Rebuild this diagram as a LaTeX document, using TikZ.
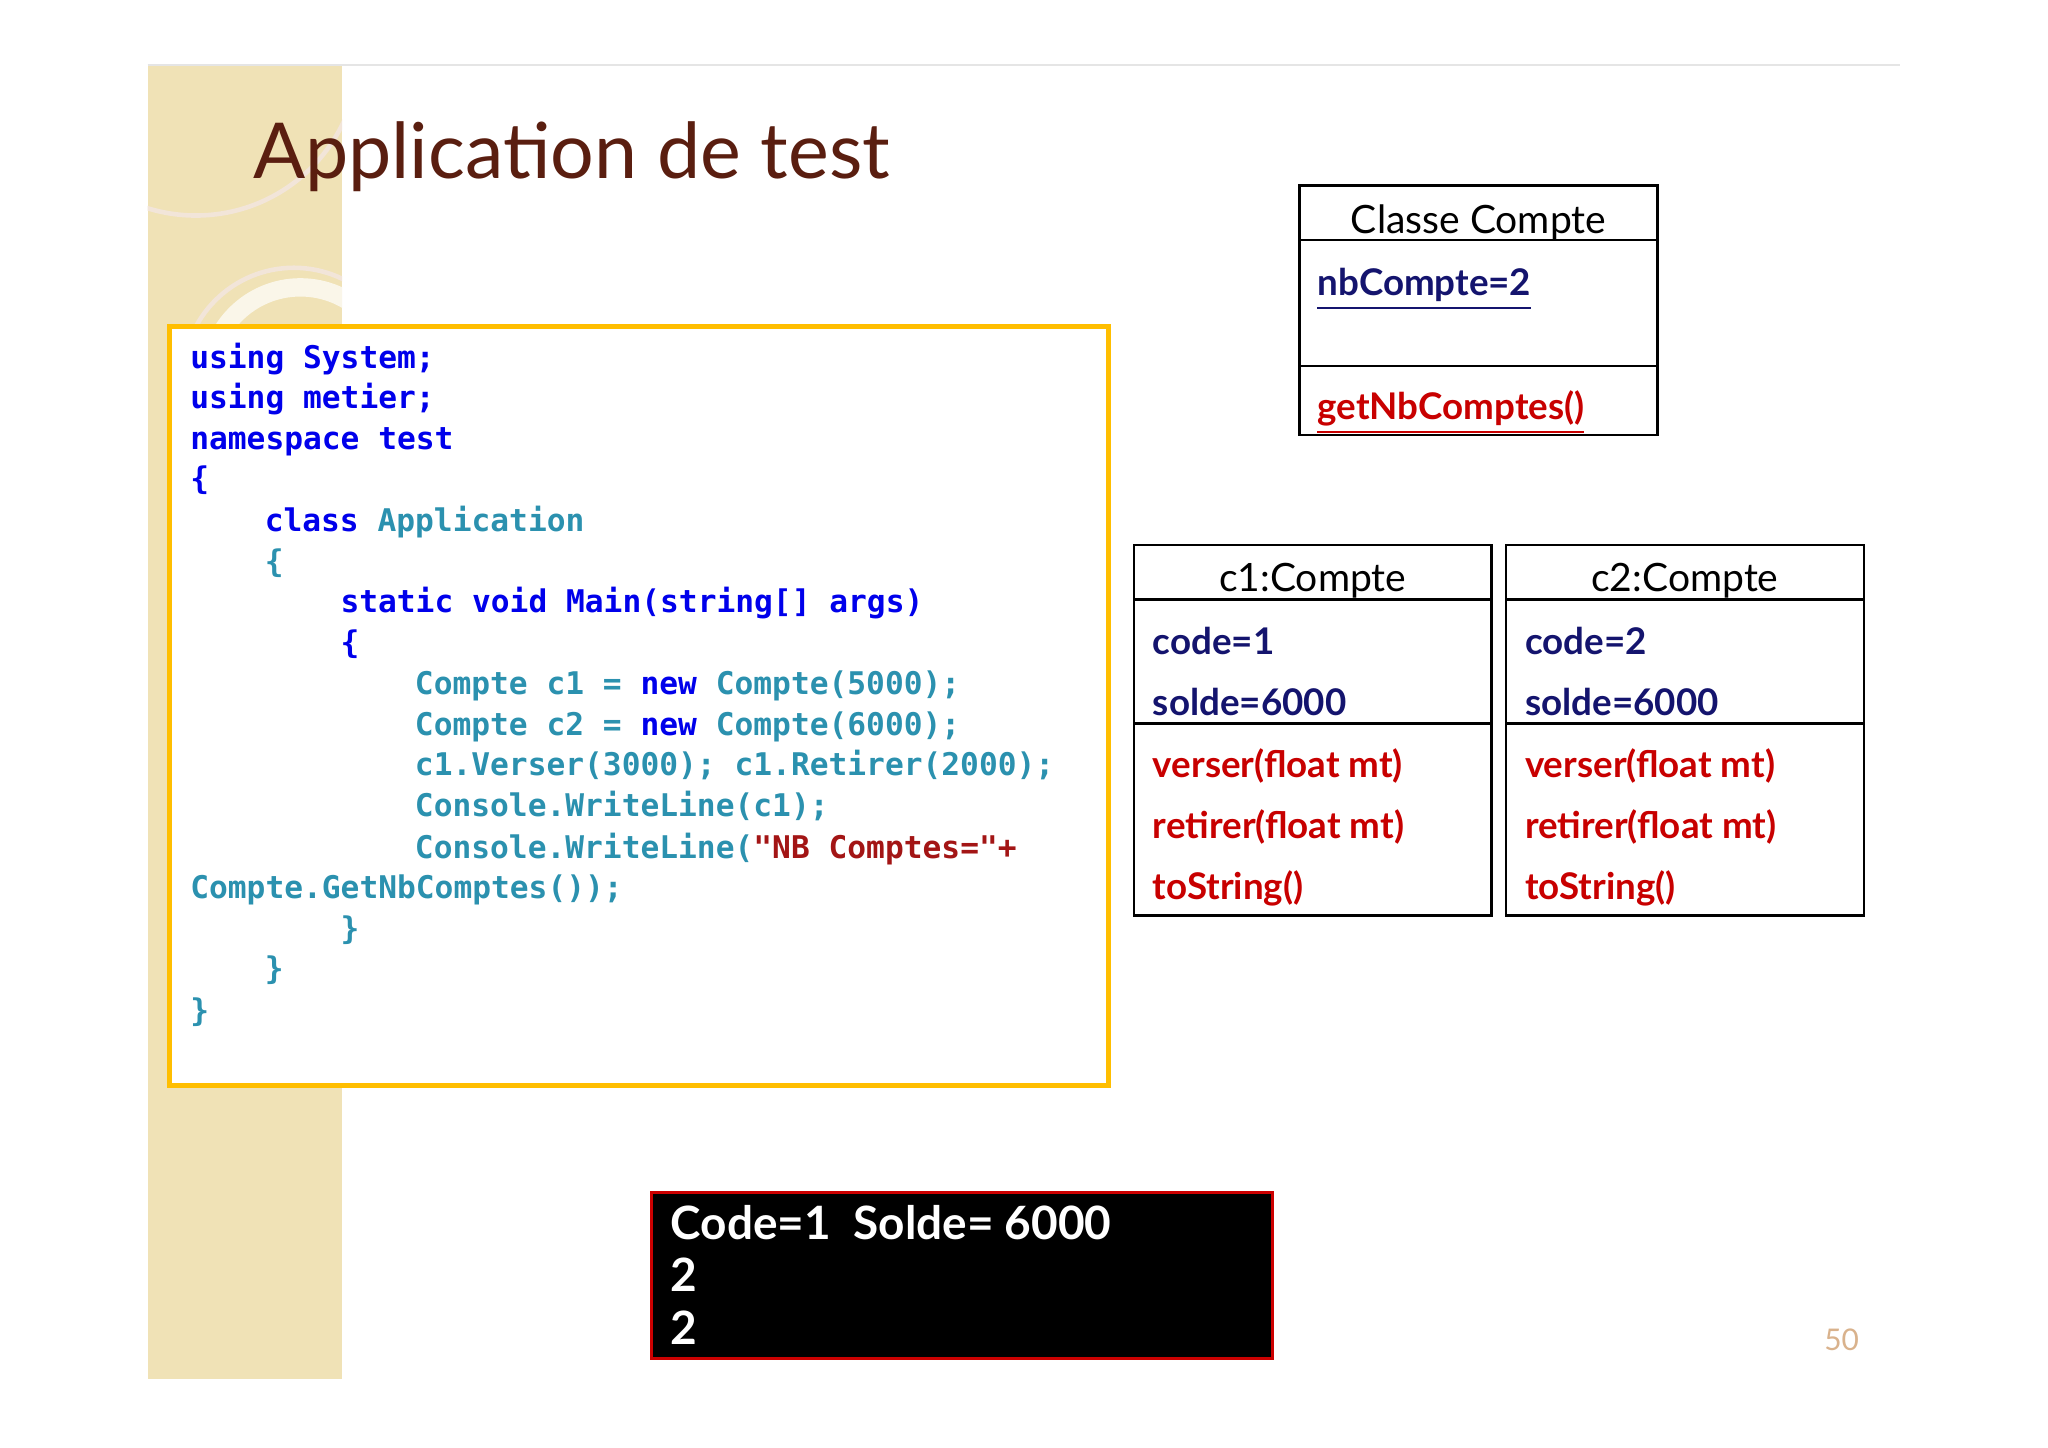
\documentclass[tikz,border=0pt]{standalone}
\usepackage{fontspec}
\setmainfont{Lato}
\setmonofont{DejaVu Sans Mono}
\definecolor{kw}{RGB}{0,0,235}
\definecolor{ty}{RGB}{43,145,175}
\definecolor{st}{RGB}{163,21,21}
\definecolor{navy}{RGB}{20,20,110}
\definecolor{umlred}{RGB}{200,0,0}
\definecolor{strip}{RGB}{240,226,182}
\definecolor{titlec}{RGB}{90,30,16}
\definecolor{orangeb}{RGB}{255,190,0}
\begin{document}
\begin{tikzpicture}[x=0.01cm,y=-0.01cm,
  code/.style={anchor=base west,inner sep=0,font=\fontsize{6.8}{8}\ttfamily\bfseries},
  uml/.style={anchor=base west,inner sep=0,font=\fontsize{8}{9}\selectfont\bfseries},
  umlt/.style={anchor=base,inner sep=0,font=\fontsize{8.5}{9}\selectfont},
  box/.style={draw=black,line width=0.5pt}]
\useasboundingbox (0,0) rectangle (1568,1108);
\fill[white] (0,0) rectangle (1568,1108);
% strip
\fill[strip] (113,50) rectangle (262,1056);
\begin{scope}
\clip (113,50) rectangle (262,250);
\draw[white!80!brown,line width=1pt] (150,40) circle (125);
\draw[white!80!brown,line width=1pt] (225,290) circle (85);
\draw[white!70!strip,line width=4pt] (230,290) circle (70);
\end{scope}
\draw[black!10] (113,50) -- (1455,50);
\node[anchor=base west,inner sep=0,text=titlec,font=\fontsize{16.8}{20}\selectfont] (title) at (193,137) {Application de test};
% code box
\draw[orangeb,line width=1.1pt,fill=white] (130,250) rectangle (849,831);
\node[code,text=kw] (l1) at (145,282) {using System;};
\node[code,text=kw] (l2) at (145,313) {using metier;};
\node[code,text=kw] (l3) at (145,344) {namespace test};
\node[code,text=kw] (l4) at (145,375) {\{};
\node[code] (l5) at (202,407) {\textcolor{kw}{class} \textcolor{ty}{Application}};
\node[code,text=ty] (l6) at (202,438) {\{};
\node[code,text=kw] (l7) at (260,469) {static void Main(string[] args)};
\node[code,text=kw] (l8) at (260,500) {\{};
\node[code,text=ty] (l9) at (317,532) {Compte c1 = \textcolor{kw}{new} Compte(5000);};
\node[code,text=ty] (l10) at (317,563) {Compte c2 = \textcolor{kw}{new} Compte(6000);};
\node[code,text=ty] (l11) at (317,594) {c1.Verser(3000); c1.Retirer(2000);};
\node[code,text=ty] (l12) at (317,625) {Console.WriteLine(c1);};
\node[code,text=ty] (l13) at (317,657) {Console.WriteLine(\textcolor{st}{"NB Comptes="+}};
\node[code,text=ty] (l14) at (145,688) {Compte.GetNbComptes());};
\node[code,text=ty] (l15) at (260,719) {\}};
\node[code,text=ty] (l16) at (202,750) {\}};
\node[code,text=ty] (l17) at (145,782) {\}};
% Classe Compte
\draw[box] (995,142) rectangle (1269,333);
\draw[box] (995,184) -- (1269,184) (995,280) -- (1269,280);
\node[umlt] (cc) at (1132,179) {Classe Compte};
\node[uml,text=navy] (nb) at (1008,226) {\underline{nbCompte=2}};
\node[uml,text=umlred] (gnb) at (1008,321) {\underline{getNbComptes()}};
% c1 and c2
\foreach \x/\n/\c in {868/c1/1,1153/c2/2}{
  \draw[box] (\x,417) rectangle (\x+274,701);
  \draw[box] (\x,459) -- (\x+274,459) (\x,554) -- (\x+274,554);
  \node[umlt] (\n t) at (\x+137,453) {c\c:Compte};
  \node[uml,text=navy] (\n a) at (\x+14,501) {code=\c};
  \node[uml,text=navy] (\n b) at (\x+14,548) {solde=6000};
  \node[uml,text=umlred] (\n m1) at (\x+14,595) {verser(float mt)};
  \node[uml,text=umlred] (\n m2) at (\x+14,642) {retirer(float mt)};
  \node[uml,text=umlred] (\n m3) at (\x+14,689) {toString()};
}
% console
\draw[fill=black,draw=red!80!black,line width=0.6pt] (499,913) rectangle (974,1040);
\node[anchor=base west,inner sep=0,text=white,font=\fontsize{10}{12}\selectfont\bfseries] (o1) at (513,949) {Code=1\ \ Solde= 6000};
\node[anchor=base west,inner sep=0,text=white,font=\fontsize{10}{12}\selectfont\bfseries] (o2) at (513,989) {2};
\node[anchor=base west,inner sep=0,text=white,font=\fontsize{10}{12}\selectfont\bfseries] (o3) at (513,1029) {2};
\node[anchor=base,inner sep=0,text=brown!60!white,font=\fontsize{6.5}{8}\selectfont] (pg) at (1410,1034) {50};
\end{tikzpicture}
\end{document}
